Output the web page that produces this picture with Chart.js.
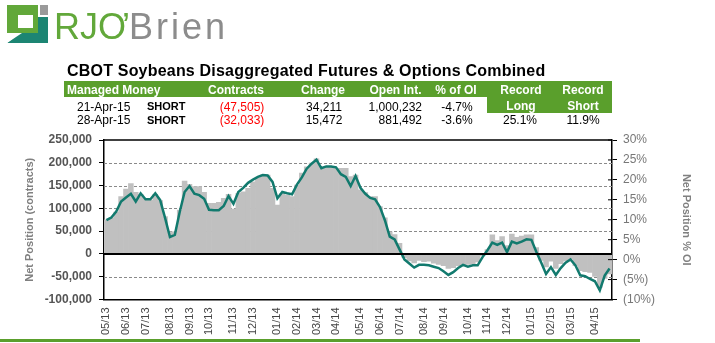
<!DOCTYPE html>
<html>
<head>
<meta charset="utf-8">
<script src="https://cdn.jsdelivr.net/npm/chart.js@4/dist/chart.umd.min.js"></script>
<style>
  html, body { margin: 0; padding: 0; background: #fff; }
  #wrap { position: relative; width: 715px; height: 343px; overflow: hidden;
          font-family: "Liberation Sans", Arial, sans-serif; }
  #chart { position: absolute; left: 0; top: 0; }
  .t { position: absolute; white-space: nowrap; }
  .band { position: absolute; background: #5A9F2C; }
</style>
</head>
<body>
<div id="wrap">
  <canvas id="chart" width="715" height="343"></canvas>
  <svg style="position:absolute;left:0;top:0" width="60" height="50">
    <rect x="7" y="5" width="31" height="28" fill="#62A83A"/>
    <rect x="18" y="15" width="15" height="13" fill="#fff"/>
    <rect x="40" y="5" width="8" height="10" fill="#9A9A9A"/>
    <polygon points="7,43 48,43 48,17 38,17 38,33 20,33" fill="#1C8573"/>
    <polygon points="7,43 7,40 19,33 22,33" fill="#fff"/>
  </svg>
  <div class="band" style="left:64px;top:81px;width:548px;height:16px"></div>
  <div class="band" style="left:487px;top:97px;width:125px;height:16px"></div>
  <div class="band" style="left:0;top:339px;width:640px;height:3px"></div>
</div>
<script>
// weekly COT report dates, first one
const startDate = '2013-05-07';

// managed money net position, contracts (left axis)
const netPosition = [
  74000, 80000, 93000, 115000, 124000, 132000, 115000, 133000, 120000, 120000,
  133000, 118000, 79000, 37000, 42000, 92000, 136000, 149000, 132000, 129000,
  121000, 97000, 96000, 96000, 105000, 127000, 110000, 136000, 145000, 156000,
  163000, 169000, 173000, 172000, 158000, 122000, 136000, 133000, 131000, 152000,
  168000, 187000, 198000, 207000, 188000, 192000, 192000, 190000, 175000, 169000,
  149000, 171000, 145000, 132000, 123000, 120000, 103000, 74000, 38000, 32000,
  10000, -12000, -21000, -30000, -24000, -24000, -25000, -28000, -31000, -38000,
  -46000, -40000, -31000, -24000, -28000, -25000, -25000, -7000, 8000, 25000,
  20000, 25000, 4000, 27000, 23000, 27000, 32000, 31000, 5000, -19000,
  -44000, -29000, -46000, -31000, -19000, -12000, -25000, -47000, -49000, -55000,
  -60000, -80000, -47505, -32033
];

// net position as % of open interest (right axis)
const pctOfOI = [
  10.0, 10.5, 11.9, 15.8, 17.7, 19.1, 16.9, 16.4, 15.3, 14.9,
  16.4, 14.8, 10.8, 7.0, 7.0, 12.4, 19.7, 18.9, 18.3, 18.3,
  16.9, 14.1, 14.1, 14.4, 15.4, 16.4, 12.7, 16.6, 17.0, 17.9,
  19.5, 20.6, 21.2, 21.2, 17.9, 13.7, 16.6, 16.2, 15.8, 18.7,
  21.7, 23.3, 24.2, 25.3, 23.3, 23.3, 23.3, 22.9, 22.9, 22.9,
  20.8, 21.2, 17.5, 16.8, 15.8, 15.8, 13.3, 10.5, 7.0, 6.3,
  4.1, 0.5, -0.3, -0.8, -0.2, -0.5, -0.4, -0.9, -1.2, -1.5,
  -2.2, -2.0, -1.5, -1.2, -1.2, -1.0, -0.6, 1.0, 2.5, 6.2,
  4.8, 5.8, 3.5, 6.4, 5.6, 5.9, 6.2, 6.2, 3.0, -0.2,
  -1.8, -0.4, -2.2, -1.0, -0.3, 0.2, -1.5, -2.8, -3.0, -3.2,
  -4.2, -7.0, -4.7, -3.6
];

const leftRange = [-100000, 250000];
const rightRange = [-10, 30];

// table above the chart
const tableHead = ['Managed Money', 'Contracts', 'Change', 'Open Int.', '% of OI'];
const tableRows = [
  ['21-Apr-15', 'SHORT', '(47,505)', '34,211', '1,000,232', '-4.7%'],
  ['28-Apr-15', 'SHORT', '(32,033)', '15,472', '881,492', '-3.6%']
];
const recordLong = '25.1%';
const recordShort = '11.9%';

const FONT = '"Liberation Sans", Arial, sans-serif';
const wrap = document.getElementById('wrap');

function put(text, x, base, align, font, size, color) {
  const d = document.createElement('div');
  d.className = 't';
  d.textContent = text;
  d.style.font = font + ' ' + size + 'px ' + FONT;
  d.style.lineHeight = size + 'px';
  d.style.color = color;
  d.style.top = (base - 0.8465 * size) + 'px';
  if (align === 'left') d.style.left = x + 'px';
  else if (align === 'right') d.style.right = (715 - x) + 'px';
  else { d.style.left = x + 'px'; d.style.transform = 'translateX(-50%)'; }
  wrap.appendChild(d);
  return d;
}

// logo text
put('RJO', 54, 39.5, 'left', 'normal', 36, '#62A83A');
put('\u2019', 122, 39.5, 'left', 'normal', 36, '#62A83A');
put('Brien', 129, 39.5, 'left', 'normal', 36, '#8C8C8C').style.letterSpacing = '3px';

const title = put('CBOT Soybeans Disaggregated Futures & Options Combined', 67, 76.5, 'left', 'bold', 16, '#000');
title.style.letterSpacing = '0.2px';

const colX = [67, 236, 323, 395.5, 456];
put(tableHead[0], colX[0], 94.5, 'left', 'bold', 12, '#fff');
for (let c = 1; c < tableHead.length; c++) put(tableHead[c], colX[c], 94.5, 'center', 'bold', 12, '#fff');
put('Record', 521, 94.5, 'center', 'bold', 12, '#fff');
put('Record', 583, 94.5, 'center', 'bold', 12, '#fff');
put('Long', 521, 110.5, 'center', 'bold', 12, '#fff');
put('Short', 583, 110.5, 'center', 'bold', 12, '#fff');

tableRows.forEach((r, k) => {
  const b = 110.7 + k * 13.8;
  put(r[0], 77, b, 'left', 'normal', 12, '#000');
  put(r[1], 147, b, 'left', 'bold', 11, '#000');
  put(r[2], 242, b, 'center', 'normal', 12, '#FF0000');
  put(r[3], 324, b, 'center', 'normal', 12, '#000');
  put(r[4], 422, b, 'right', 'normal', 12, '#000');
  put(r[5], 457, b, 'center', 'normal', 12, '#000');
});
put(recordLong, 520, 124.5, 'center', 'normal', 12, '#000');
put(recordShort, 583, 124.5, 'center', 'normal', 12, '#000');

// category labels: one per weekly report
const weeks = netPosition.map((_, i) => {
  const d = new Date(startDate + 'T00:00:00Z');
  d.setUTCDate(d.getUTCDate() + 7 * i);
  return d;
});
const labels = weeks.map(d => d.toISOString().slice(0, 10));

function monthLabel(i) {
  const d = weeks[i];
  if (i > 0 && weeks[i - 1].getUTCMonth() === d.getUTCMonth()) return '';
  return String(d.getUTCMonth() + 1).padStart(2, '0') + '/' + String(d.getUTCFullYear()).slice(2);
}

// bars hang from the primary zero line, like the original
const barBase = rightRange[0] +
  (0 - leftRange[0]) / (leftRange[1] - leftRange[0]) * (rightRange[1] - rightRange[0]);

const frame = {
  id: 'frame',
  beforeDatasetsDraw(chart) {
    const { ctx, chartArea: a, scales: { y } } = chart;
    ctx.save();
    ctx.strokeStyle = '#8a8a8a';
    ctx.lineWidth = 1;
    ctx.setLineDash([3, 2]);
    y.ticks.forEach(t => {
      if (t.value === y.min || t.value === y.max || t.value === 0) return;
      const py = Math.round(y.getPixelForValue(t.value)) + 0.5;
      ctx.beginPath(); ctx.moveTo(a.left, py); ctx.lineTo(a.right, py); ctx.stroke();
    });
    ctx.restore();
  },
  afterDatasetsDraw(chart) {
    const { ctx, chartArea: a, scales: { y, y1 } } = chart;
    const seg = (x1, y1_, x2, y2) => { ctx.beginPath(); ctx.moveTo(x1, y1_); ctx.lineTo(x2, y2); ctx.stroke(); };
    ctx.save();
    ctx.strokeStyle = '#000';
    ctx.lineWidth = 2;
    const z = y.getPixelForValue(0);
    seg(a.left, z, a.right, z);
    ctx.lineWidth = 1.5;
    seg(a.left, a.top, a.right, a.top);
    ctx.lineWidth = 1;
    y1.ticks.forEach(t => {
      const py = y1.getPixelForValue(t.value);
      seg(a.right - 4, py, a.right, py);
    });
    ctx.restore();
  }
};

Chart.defaults.font.family = FONT;

new Chart(document.getElementById('chart'), {
  type: 'bar',
  data: {
    labels: labels,
    datasets: [
      {
        type: 'line',
        data: netPosition,
        yAxisID: 'y',
        borderColor: '#127A6E',
        borderWidth: 2.5,
        pointRadius: 0,
        tension: 0,
        order: 0
      },
      {
        type: 'bar',
        data: pctOfOI,
        yAxisID: 'y1',
        backgroundColor: '#C0C0C0',
        borderWidth: 0,
        base: barBase,
        barPercentage: 1,
        categoryPercentage: 1,
        order: 1
      }
    ]
  },
  options: {
    responsive: false,
    animation: false,
    devicePixelRatio: 1,
    layout: { padding: { top: 140, left: 0, right: 0, bottom: 0 } },
    plugins: { legend: { display: false }, tooltip: { enabled: false } },
    scales: {
      x: {
        grid: { display: false, drawTicks: false },
        border: { color: '#000', width: 1.5 },
        ticks: {
          autoSkip: false, maxRotation: 90, minRotation: 90, padding: 8,
          color: '#444', font: { size: 11 },
          callback: (v, i) => monthLabel(i)
        },
        afterFit: s => { s.height = 43.5; }
      },
      y: {
        position: 'left',
        min: leftRange[0], max: leftRange[1],
        ticks: {
          stepSize: 50000, padding: 7, color: '#555',
          font: { size: 12, weight: 'bold' },
          callback: v => v.toLocaleString('en-US')
        },
        grid: { drawOnChartArea: false, tickLength: 5, tickColor: '#000' },
        border: { color: '#000', width: 1.5 },
        title: {
          display: true, text: 'Net Position (contracts)', color: '#808080',
          font: { size: 11, weight: 'bold' }, padding: { top: 23, bottom: 0 }
        },
        afterFit: s => { s.width = 104; }
      },
      y1: {
        position: 'right',
        min: rightRange[0], max: rightRange[1],
        ticks: {
          stepSize: 5, padding: 6, color: '#777', font: { size: 12 },
          callback: v => v < 0 ? '(' + (-v) + '%)' : v + '%'
        },
        grid: { drawOnChartArea: false, tickLength: 5, tickColor: '#000' },
        border: { color: '#000', width: 1.5 },
        title: {
          display: true, text: 'Net Position % OI', color: '#808080',
          font: { size: 11, weight: 'bold' }, padding: { top: 22.4, bottom: 0 }
        },
        afterFit: s => { s.width = 103; }
      }
    }
  },
  plugins: [frame]
});
</script>
</body>
</html>
